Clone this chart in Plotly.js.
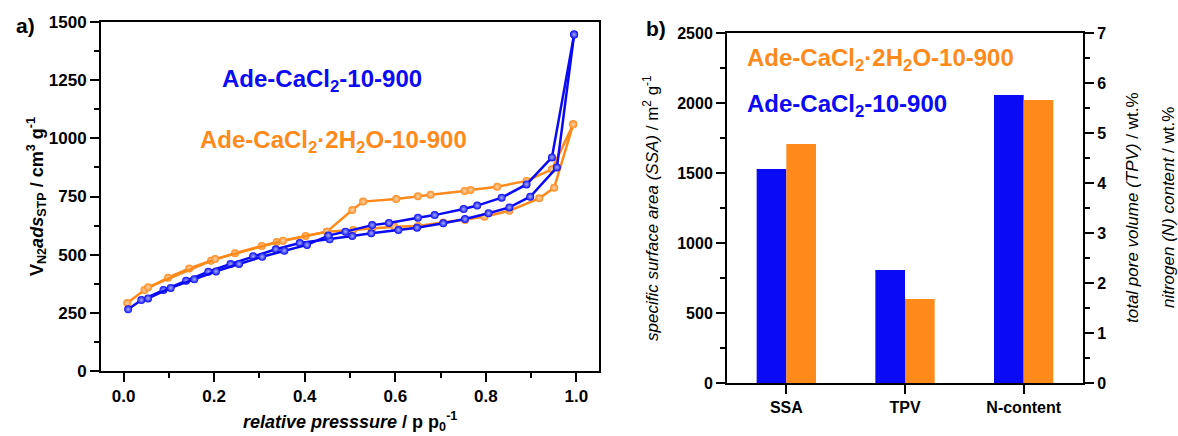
<!DOCTYPE html>
<html><head><meta charset="utf-8">
<script src="https://cdn.plot.ly/plotly-3.0.1.min.js"></script>
<style>html,body{margin:0;padding:0;background:#fff}#chart{width:1178px;height:436px}</style>
</head><body><div id="chart"></div>
<script>
// ---- isotherm data (relative pressure, V ads cm3/g) ----
const blueAdsP = [0.010, 0.039, 0.088, 0.138, 0.187, 0.236, 0.286, 0.336, 0.389, 0.455, 0.505, 0.547, 0.607, 0.648, 0.706, 0.754, 0.806, 0.852, 0.898, 0.957, 0.995];
const blueAdsV = [265, 305, 348, 388, 427, 460, 493, 523, 550, 566, 580, 592, 606, 616, 635, 653, 678, 703, 749, 875, 1446];
const blueDesP = [0.995, 0.946, 0.890, 0.835, 0.781, 0.751, 0.687, 0.650, 0.586, 0.549, 0.490, 0.452, 0.405, 0.355, 0.306, 0.255, 0.204, 0.156, 0.104, 0.054];
const blueDesV = [1446, 918, 802, 745, 711, 696, 670, 659, 636, 627, 599, 582, 542, 517, 491, 460, 428, 394, 357, 312];

const orangeAdsP = [0.008, 0.046, 0.098, 0.145, 0.193, 0.246, 0.305, 0.338, 0.402, 0.449, 0.507, 0.549, 0.598, 0.650, 0.706, 0.754, 0.797, 0.852, 0.918, 0.951, 0.993];
const orangeAdsV = [292, 348, 401, 441, 474, 506, 537, 554, 580, 599, 606, 613, 620, 623, 638, 649, 663, 689, 742, 788, 1060];
const orangeDesP = [0.993, 0.946, 0.890, 0.825, 0.766, 0.753, 0.678, 0.650, 0.602, 0.529, 0.505, 0.449, 0.352, 0.202, 0.054];
const orangeDesV = [1060, 867, 817, 792, 778, 774, 758, 751, 739, 728, 692, 599, 560, 481, 360];

// ---- bar data ----
const barCats = ['SSA', 'TPV', 'N-content'];
const ssaCat = ['SSA'];
const ssaBlue = [1529];
const ssaOrange = [1707];
const otherCats = ['TPV', 'N-content'];
const otherBlue = [2.26, 5.76];
const otherOrange = [1.68, 5.66];

const blueLabel = 'Ade-CaCl<sub>2</sub>-10-900';
const orangeLabel = 'Ade-CaCl<sub>2</sub>·2H<sub>2</sub>O-10-900';

const BLUE = '#0a0af5';
const ORANGE = '#ff8a1c';
const FONT = 'Arial, "Liberation Sans", sans-serif';

function iso(x, y, color, hl) {
  return {
    x: x, y: y, xaxis: 'x', yaxis: 'y', type: 'scatter', mode: 'lines+markers',
    line: {color: color, width: 2.5},
    marker: {color: color, size: 8, gradient: {type: 'radial', color: hl}},
    showlegend: false, hoverinfo: 'x+y'
  };
}

const traces = [
  iso(orangeAdsP, orangeAdsV, ORANGE, '#ffd7b0'),
  iso(orangeDesP, orangeDesV, ORANGE, '#ffd7b0'),
  iso(blueAdsP, blueAdsV, BLUE, '#a8b0ff'),
  iso(blueDesP, blueDesV, BLUE, '#a8b0ff'),
  {x: ssaCat, y: ssaBlue, type: 'bar', xaxis: 'x2', yaxis: 'y2', width: 0.25, offset: -0.25,
   marker: {color: BLUE}, showlegend: false},
  {x: ssaCat, y: ssaOrange, type: 'bar', xaxis: 'x2', yaxis: 'y2', width: 0.25, offset: 0,
   marker: {color: ORANGE}, showlegend: false},
  {x: otherCats, y: otherBlue, type: 'bar', xaxis: 'x2', yaxis: 'y3', width: 0.25, offset: -0.25,
   marker: {color: BLUE}, showlegend: false},
  {x: otherCats, y: otherOrange, type: 'bar', xaxis: 'x2', yaxis: 'y3', width: 0.25, offset: 0,
   marker: {color: ORANGE}, showlegend: false}
];

const tickFontL = {family: FONT, size: 17, color: '#000', weight: 'bold'};
const tickFontR = {family: FONT, size: 16, color: '#000', weight: 'bold'};
const axBase = {showline: true, linewidth: 2, linecolor: '#000', ticks: 'outside', ticklen: 9,
  tickwidth: 2, tickcolor: '#000', showgrid: false, zeroline: false, fixedrange: true};

function W(px) { return px / 1178; }
function H(py) { return 1 - py / 436; }

function ann(text, px, py, size, extra) {
  return Object.assign({text: text, x: W(px), y: H(py), xref: 'paper', yref: 'paper',
    showarrow: false, xanchor: 'center', yanchor: 'middle',
    font: {size: size, family: FONT, color: '#000'}}, extra || {});
}

const layout = {
  width: 1178, height: 436,
  margin: {l: 0, r: 0, t: 0, b: 0},
  paper_bgcolor: '#fff', plot_bgcolor: '#fff',
  font: {family: FONT, color: '#000'},
  barmode: 'overlay',
  xaxis: Object.assign({}, axBase, {
    domain: [W(101), W(599)], anchor: 'y', range: [-0.05, 1.05], tick0: 0, dtick: 0.2,
    tickformat: '.1f', mirror: true, tickfont: tickFontL,
    minor: {dtick: 0.1, ticks: 'outside', ticklen: 5, tickwidth: 2, tickcolor: '#000'}
  }),
  yaxis: Object.assign({}, axBase, {
    domain: [H(371), H(22)], anchor: 'x', range: [0, 1500], tick0: 0, dtick: 250,
    mirror: true, tickfont: tickFontL,
    minor: {dtick: 125, ticks: 'outside', ticklen: 5, tickwidth: 2, tickcolor: '#000'}
  }),
  xaxis2: Object.assign({}, axBase, {
    domain: [W(727), W(1083)], anchor: 'y2', type: 'category', categoryorder: 'array',
    categoryarray: barCats, range: [-0.5, 2.5], mirror: true, tickfont: tickFontR
  }),
  yaxis2: Object.assign({}, axBase, {
    domain: [H(383), H(33)], anchor: 'x2', range: [0, 2500], tick0: 0, dtick: 500,
    tickfont: tickFontR,
    minor: {dtick: 250, ticks: 'outside', ticklen: 5, tickwidth: 2, tickcolor: '#000'}
  }),
  yaxis3: Object.assign({}, axBase, {
    overlaying: 'y2', side: 'right', anchor: 'x2', range: [0, 7], tick0: 0, dtick: 1,
    tickfont: tickFontR,
    minor: {dtick: 0.5, ticks: 'outside', ticklen: 5, tickwidth: 2, tickcolor: '#000'}
  }),
  annotations: [
    ann('<b>a)</b>', 25, 25, 21),
    ann('<b>b)</b>', 656, 29, 21),
    ann('<b><i>relative presssure</i> / p p<sub>0</sub><sup>-1</sup></b>', 350, 421, 18),
    ann('<b>V<sub>N2</sub><i>ads</i><sub>STP</sub> / cm<sup>3</sup> g<sup>-1</sup></b>', 36, 197, 18, {textangle: -90}),
    ann('<b>' + blueLabel + '</b>', 322, 80, 24, {font: {size: 24, family: FONT, color: BLUE}}),
    ann('<b>' + orangeLabel + '</b>', 333, 142, 24, {font: {size: 24, family: FONT, color: ORANGE}}),
    ann('<b>' + orangeLabel + '</b>', 745, 59, 24, {xanchor: 'left', font: {size: 24, family: FONT, color: ORANGE}}),
    ann('<b>' + blueLabel + '</b>', 745, 105, 24, {xanchor: 'left', font: {size: 24, family: FONT, color: BLUE}}),
    ann('<i>specific surface area (SSA)</i> / m<sup>2</sup> g<sup>-1</sup>', 651, 208, 17, {textangle: -90}),
    ann('<i>total pore volume (TPV)</i> / wt.%', 1132, 208, 17, {textangle: -90}),
    ann('<i>nitrogen (N) content</i> / wt.%', 1168, 208, 17, {textangle: -90})
  ]
};

Plotly.newPlot('chart', traces, layout, {displayModeBar: false, staticPlot: true});
</script>
</body></html>
